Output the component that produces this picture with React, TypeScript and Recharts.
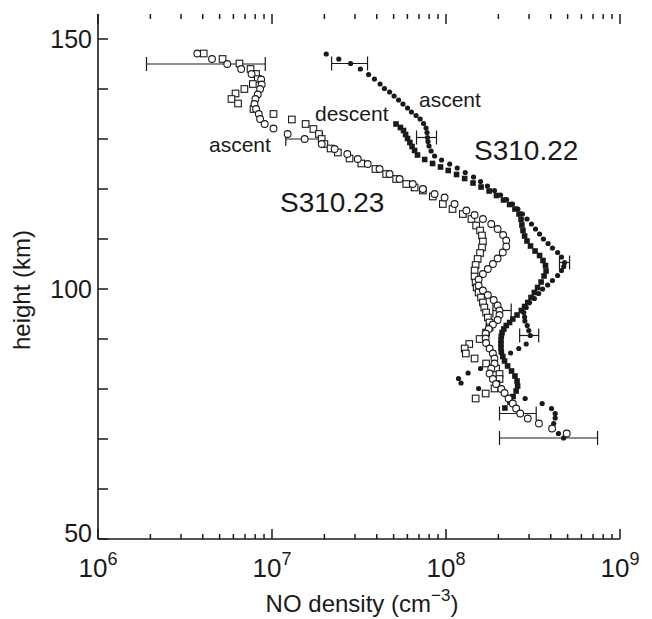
import React from "react";
import { ScatterChart, Scatter, XAxis, YAxis, ErrorBar, ReferenceLine } from "recharts";

const FONT = '"Liberation Sans", Arial, Helvetica, sans-serif';
const INK = "#1a1a1a";

type Pt = [number, number]; // [NO density cm^-3, height km]
type Err = [number, number, number]; // [height km, low density, high density]

const densityTicks = [
  1e6, 2e6, 3e6, 4e6, 5e6, 6e6, 7e6, 8e6, 9e6,
  1e7, 2e7, 3e7, 4e7, 5e7, 6e7, 7e7, 8e7, 9e7,
  1e8, 2e8, 3e8, 4e8, 5e8, 6e8, 7e8, 8e8, 9e8, 1e9,
];
const heightTicks = [50, 60, 70, 80, 90, 100, 110, 120, 130, 140, 150];
const heightLabels = [50, 100, 150];
const Y_MIN = 50;
const Y_MAX = 155;

// S310.22 ascent (filled circles)
const asc22: Pt[] = [
  [2.05e7, 147.0], [2.42e7, 146.0], [2.83e7, 145.1], [3.22e7, 144.0], [3.59e7, 142.9],
  [3.88e7, 142.0], [4.18e7, 141.0], [4.43e7, 140.1], [4.74e7, 139.4], [5.03e7, 138.6],
  [5.34e7, 137.8], [5.66e7, 137.0], [6.01e7, 136.2], [6.33e7, 135.4], [6.73e7, 134.7],
  [7.10e7, 134.0], [7.43e7, 133.1], [7.68e7, 132.2], [7.78e7, 131.3], [7.83e7, 130.3],
  [7.88e7, 129.5], [7.99e7, 128.6], [8.21e7, 127.6], [8.60e7, 126.6], [9.43e7, 125.8],
  [1.05e8, 125.0], [1.16e8, 124.2], [1.29e8, 123.3], [1.44e8, 122.4], [1.58e8, 121.5],
  [1.73e8, 120.6], [1.90e8, 119.7], [2.06e8, 118.8], [2.23e8, 117.9], [2.41e8, 117.0],
  [2.59e8, 116.0], [2.75e8, 115.0], [2.92e8, 114.0], [3.10e8, 113.0], [3.27e8, 112.0],
  [3.45e8, 111.0], [3.63e8, 110.0], [3.86e8, 109.1], [4.09e8, 108.2], [4.38e8, 107.3],
  [4.61e8, 106.4], [4.80e8, 105.3], [4.75e8, 104.5], [4.61e8, 103.7], [4.38e8, 102.7],
  [4.09e8, 101.7], [3.84e8, 100.8], [3.59e8, 100.0], [3.41e8, 99.1], [3.22e8, 98.1],
  [3.02e8, 97.3], [2.89e8, 96.3], [2.80e8, 95.3], [2.83e8, 94.4], [2.84e8, 93.6],
  [2.93e8, 92.7], [2.99e8, 91.7], [3.05e8, 90.7], [2.89e8, 89.0], [2.62e8, 88.1],
  [2.35e8, 87.2], [1.58e8, 84.1], [1.34e8, 83.2], [1.18e8, 82.1], [1.22e8, 81.2],
  [1.54e8, 80.1], [2.85e8, 78.1], [3.57e8, 77.1], [4.04e8, 76.1], [4.24e8, 75.1],
  [4.24e8, 74.2], [4.16e8, 73.1], [4.07e8, 72.2], [4.43e8, 71.1], [4.74e8, 70.2],
];
const asc22Err: Err[] = [
  [145.1, 2.2e7, 3.54e7],
  [130.3, 6.77e7, 8.82e7],
  [105.3, 4.49e8, 5.13e8],
  [90.7, 2.65e8, 3.41e8],
  [70.2, 2.03e8, 7.43e8],
];

// S310.22 descent (filled squares)
const dsc22: Pt[] = [
  [5.16e7, 133.0], [5.47e7, 132.3], [5.70e7, 131.7], [5.86e7, 130.9], [6.01e7, 130.1],
  [6.20e7, 129.3], [6.38e7, 128.5], [6.60e7, 127.7], [6.86e7, 126.8], [7.54e7, 125.9],
  [8.37e7, 125.1], [9.30e7, 124.4], [1.03e8, 123.7], [1.15e8, 122.9], [1.28e8, 122.1],
  [1.43e8, 121.2], [1.59e8, 120.4], [1.77e8, 119.6], [1.95e8, 118.7], [2.14e8, 117.8],
  [2.32e8, 116.9], [2.49e8, 116.0], [2.63e8, 115.0], [2.70e8, 113.9], [2.73e8, 112.8],
  [2.77e8, 111.7], [2.83e8, 110.6], [2.92e8, 109.6], [3.06e8, 108.6], [3.25e8, 107.6],
  [3.45e8, 106.7], [3.61e8, 105.7], [3.73e8, 104.7], [3.76e8, 103.6], [3.66e8, 102.6],
  [3.52e8, 101.4], [3.36e8, 100.3], [3.22e8, 99.3], [3.08e8, 98.3], [2.95e8, 97.3],
  [2.83e8, 96.5], [2.71e8, 95.7], [2.56e8, 94.8], [2.42e8, 94.0], [2.32e8, 93.3],
  [2.22e8, 92.7], [2.15e8, 92.0], [2.10e8, 91.3], [2.08e8, 90.6], [2.07e8, 89.8],
  [2.07e8, 89.0], [2.07e8, 88.2], [2.08e8, 87.4], [2.12e8, 86.5], [2.17e8, 85.6],
  [2.26e8, 84.6], [2.38e8, 83.6], [2.49e8, 82.6], [2.56e8, 81.6], [2.58e8, 80.6],
  [2.53e8, 79.6], [2.43e8, 78.5], [2.33e8, 77.4], [2.18e8, 76.2],
];

// S310.23 ascent (open circles)
const asc23: Pt[] = [
  [3.72e6, 147.1], [4.52e6, 146.0], [5.53e6, 145.0], [6.65e6, 144.0], [7.63e6, 143.0],
  [8.66e6, 141.9], [8.73e6, 140.9], [8.54e6, 140.0], [8.28e6, 138.9], [8.03e6, 138.0],
  [7.93e6, 137.0], [8.10e6, 136.0], [8.40e6, 135.0], [8.54e6, 134.0], [9.08e6, 133.0],
  [1.02e7, 132.1], [1.23e7, 131.0], [1.54e7, 130.0], [1.93e7, 129.0], [2.29e7, 128.0],
  [2.71e7, 127.0], [3.11e7, 126.0], [3.55e7, 125.0], [4.15e7, 124.0], [4.74e7, 123.0],
  [5.41e7, 122.0], [6.44e7, 121.0], [7.36e7, 120.0], [8.60e7, 119.0], [9.81e7, 118.3],
  [1.12e8, 117.0], [1.31e8, 115.7], [1.46e8, 114.8], [1.63e8, 114.0], [1.82e8, 113.0],
  [1.98e8, 112.0], [2.13e8, 110.8], [2.22e8, 109.7], [2.22e8, 108.5], [2.12e8, 107.3],
  [1.98e8, 106.1], [1.86e8, 105.0], [1.74e8, 104.0], [1.63e8, 103.0], [1.54e8, 101.9],
  [1.54e8, 100.7], [1.63e8, 99.7], [1.74e8, 98.8], [1.88e8, 97.8], [1.98e8, 96.7],
  [2.03e8, 95.7], [2.03e8, 94.8], [1.98e8, 93.8], [1.86e8, 92.9], [1.76e8, 92.0],
  [1.69e8, 91.1], [1.69e8, 90.1], [1.70e8, 89.2], [1.78e8, 88.1], [1.86e8, 87.1],
  [1.90e8, 86.1], [1.90e8, 85.1], [1.82e8, 84.1], [1.78e8, 83.1], [1.86e8, 82.0],
  [1.94e8, 81.0], [2.08e8, 80.0], [2.17e8, 79.2], [2.29e8, 78.1], [2.42e8, 77.1],
  [2.53e8, 76.1], [2.67e8, 75.1], [2.95e8, 74.1], [3.42e8, 73.1], [4.07e8, 72.1],
  [4.94e8, 71.1],
];
const asc23Err: Err[] = [
  [145.0, 1.9e6, 9.15e6],
  [130.0, 1.2e7, 1.95e7],
  [95.7, 1.86e8, 2.37e8],
  [75.1, 2.03e8, 3.3e8],
];

// S310.23 descent (open squares)
const dsc23: Pt[] = [
  [4.05e6, 147.1], [5.20e6, 146.0], [6.50e6, 145.1], [7.53e6, 144.0], [8.10e6, 143.0],
  [8.28e6, 142.0], [7.76e6, 141.0], [6.94e6, 140.0], [6.17e6, 139.1], [5.85e6, 138.0],
  [6.38e6, 137.1], [7.83e6, 136.0], [1.02e7, 135.0], [1.30e7, 133.9], [1.56e7, 133.0],
  [1.73e7, 132.0], [1.86e7, 131.0], [1.93e7, 130.0], [2.00e7, 129.0], [2.17e7, 128.1],
  [2.39e7, 127.3], [2.79e7, 126.1], [3.26e7, 125.1], [3.93e7, 124.0], [4.53e7, 123.0],
  [5.17e7, 122.0], [5.91e7, 121.0], [6.60e7, 120.3], [7.36e7, 119.7], [8.40e7, 118.5],
  [9.59e7, 117.0], [1.09e8, 116.0], [1.25e8, 115.0], [1.40e8, 114.0], [1.49e8, 112.7],
  [1.57e8, 111.7], [1.61e8, 110.7], [1.63e8, 109.5], [1.61e8, 108.3], [1.57e8, 107.2],
  [1.52e8, 106.0], [1.48e8, 104.8], [1.46e8, 103.7], [1.46e8, 102.5], [1.48e8, 101.3],
  [1.50e8, 100.3], [1.54e8, 99.3], [1.59e8, 98.3], [1.63e8, 97.3], [1.66e8, 96.3],
  [1.70e8, 95.3], [1.74e8, 94.3], [1.78e8, 93.3], [1.78e8, 92.3], [1.70e8, 91.3],
  [1.56e8, 90.0], [1.36e8, 89.0], [1.28e8, 88.1], [1.30e8, 87.1], [1.46e8, 86.1],
  [1.70e8, 85.1], [1.94e8, 84.1], [2.03e8, 83.0], [2.03e8, 82.0], [1.95e8, 81.0],
  [1.90e8, 80.1], [1.69e8, 79.1], [1.48e8, 78.1],
];

// error bars are stored as absolute ends, recharts wants distances from the point
function rows(points: Pt[], errs: Err[] = []) {
  return points.map(([x, y]) => {
    const e = errs.find((r) => r[0] === y);
    return { x, y, err: e ? [x - e[1], e[2] - x] : undefined };
  });
}

const isDecade = (v: number) => Math.abs(Math.log10(v) - Math.round(Math.log10(v))) < 1e-6;

// x ticks point inwards; their length is given in height units (1 km = 5 px here)
const tickLen = (v: number) => (isDecade(v) ? 2 : 1);

const BottomTick = (props: any) => {
  const { x, y, payload } = props;
  const v = payload.value;
  if (!isDecade(v)) return <g />;
  return (
    <text x={x} y={y + 38} textAnchor="middle" fontSize={26} fontFamily={FONT} fill={INK} stroke="none">
      10
      <tspan dy={-12} fontSize={18}>
        {Math.round(Math.log10(v))}
      </tspan>
    </text>
  );
};

const LeftTick = (props: any) => {
  const { x, y, payload } = props;
  const v = payload.value;
  return (
    <g>
      <path d={`M${x},${y}H${x + 10}`} stroke={INK} strokeWidth={1.5} fill="none" />
      {heightLabels.includes(v) && (
        <text
          x={x - 6}
          y={v === 50 ? y + 3 : y + 9}
          textAnchor="end"
          fontSize={25}
          fontFamily={FONT}
          fill={INK}
          stroke="none"
        >
          {v}
        </text>
      )}
    </g>
  );
};

const RightTick = (props: any) => {
  const { x, y } = props;
  return <path d={`M${x},${y}H${x - 10}`} stroke={INK} strokeWidth={1.5} fill="none" />;
};

const filledDot = (p: any) => <circle cx={p.cx} cy={p.cy} r={2.6} fill={INK} />;
const filledSquare = (p: any) => <rect x={p.cx - 2.8} y={p.cy - 2.8} width={5.6} height={5.6} fill={INK} />;
const openDot = (p: any) => <circle cx={p.cx} cy={p.cy} r={3.4} fill="#fff" stroke={INK} strokeWidth={1.1} />;
const openSquare = (p: any) => (
  <rect x={p.cx - 3.3} y={p.cy - 3.3} width={6.6} height={6.6} fill="#fff" stroke={INK} strokeWidth={1.1} />
);

export default function App() {
  const axisLine = { stroke: INK, strokeWidth: 1.6 };
  const errProps = { dataKey: "err", direction: "x" as const, width: 7, stroke: INK, strokeWidth: 1.2 };
  return (
    <div style={{ position: "absolute", left: 0, top: 0, width: 652, height: 619, background: "#fff" }}>
      <ScatterChart width={652} height={619} margin={{ top: 14, right: 32, bottom: 0, left: 0 }}>
        <XAxis
          xAxisId="b"
          dataKey="x"
          type="number"
          scale="log"
          domain={[1e6, 1e9]}
          allowDataOverflow
          ticks={densityTicks}
          interval={0}
          height={80}
          tickSize={0}
          tickMargin={0}
          tickLine={false}
          axisLine={axisLine}
          tick={BottomTick}
        />
        <XAxis
          xAxisId="t"
          orientation="top"
          type="number"
          scale="log"
          domain={[1e6, 1e9]}
          allowDataOverflow
          height={0}
          tick={false}
          tickLine={false}
          axisLine={axisLine}
        />
        <YAxis
          yAxisId="l"
          dataKey="y"
          type="number"
          domain={[Y_MIN, Y_MAX]}
          allowDataOverflow
          ticks={heightTicks}
          interval={0}
          width={98}
          tickSize={0}
          tickMargin={0}
          tickLine={false}
          axisLine={axisLine}
          tick={LeftTick}
        />
        <YAxis
          yAxisId="r"
          orientation="right"
          type="number"
          domain={[Y_MIN, Y_MAX]}
          allowDataOverflow
          ticks={heightTicks}
          interval={0}
          width={0}
          tickSize={0}
          tickMargin={0}
          tickLine={false}
          axisLine={axisLine}
          tick={RightTick}
        />
        {densityTicks.map((v) => (
          <ReferenceLine
            key={`b${v}`}
            xAxisId="b"
            yAxisId="l"
            segment={[{ x: v, y: Y_MIN }, { x: v, y: Y_MIN + tickLen(v) }]}
            stroke={INK}
            strokeWidth={1.5}
          />
        ))}
        {densityTicks.map((v) => (
          <ReferenceLine
            key={`t${v}`}
            xAxisId="b"
            yAxisId="l"
            segment={[{ x: v, y: Y_MAX }, { x: v, y: Y_MAX - tickLen(v) }]}
            stroke={INK}
            strokeWidth={1.5}
          />
        ))}
        <Scatter xAxisId="b" yAxisId="l" data={rows(asc22, asc22Err)} shape={filledDot} isAnimationActive={false}>
          <ErrorBar {...errProps} />
        </Scatter>
        <Scatter xAxisId="b" yAxisId="l" data={rows(dsc22)} shape={filledSquare} isAnimationActive={false} />
        <Scatter xAxisId="b" yAxisId="l" data={rows(dsc23)} shape={openSquare} isAnimationActive={false} />
        <Scatter xAxisId="b" yAxisId="l" data={rows(asc23, asc23Err)} shape={openDot} isAnimationActive={false}>
          <ErrorBar {...errProps} />
        </Scatter>
      </ScatterChart>
      <svg
        width={652}
        height={619}
        style={{ position: "absolute", left: 0, top: 0, pointerEvents: "none" }}
        fontFamily={FONT}
        fill={INK}
      >
        <text x={209} y={152} fontSize={21}>ascent</text>
        <text x={315} y={121} fontSize={21}>descent</text>
        <text x={419} y={107} fontSize={21}>ascent</text>
        <text x={474} y={160} fontSize={28}>S310.22</text>
        <text x={280} y={212} fontSize={28}>S310.23</text>
        <text x={362} y={612} fontSize={24} textAnchor="middle">
          NO density (cm
          <tspan dy={-11} fontSize={17}>−3</tspan>
          <tspan dy={11}>)</tspan>
        </text>
        <text x={30} y={290} fontSize={24} textAnchor="middle" transform="rotate(-90 30 290)">
          height (km)
        </text>
      </svg>
    </div>
  );
}
